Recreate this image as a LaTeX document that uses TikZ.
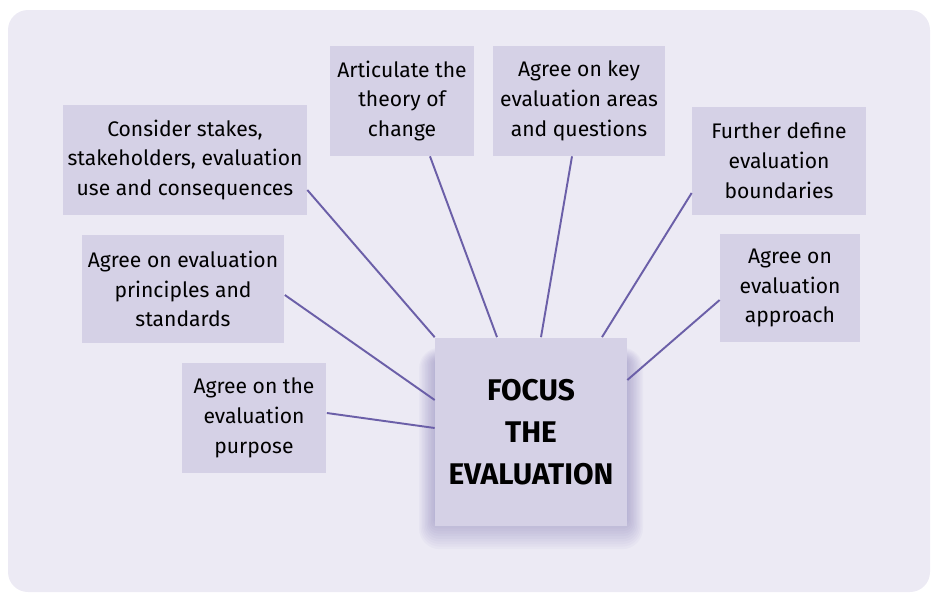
\documentclass[tikz,border=0pt]{standalone}
\usepackage{fontspec}
\setmainfont{Fira Sans}
\usepackage{tikz}

\definecolor{pagebg}{HTML}{ECEAF4}
\definecolor{notefill}{HTML}{D5D1E6}
\definecolor{linkcol}{HTML}{6B5FA8}

\tikzset{
  note/.style={fill=notefill, inner sep=0pt, align=center,
    minimum height=2.2cm, font=\fontsize{12}{17}\selectfont},
  link/.style={draw=linkcol, line width=1.1pt},
}

\begin{document}
\begin{tikzpicture}[x=0.02cm, y=-0.02cm]
    \useasboundingbox (0,0) rectangle (933,595);
    \fill[pagebg, rounded corners=0.4cm] (8,10) rectangle (930,592);

    \node[note, minimum width=4.88cm] (consider) at (185,160) {Consider stakes,\\ stakeholders, evaluation\\ use and consequences};
    \node[note, minimum width=4.06cm, minimum height=2.16cm] (principles) at (183,289) {Agree on evaluation\\ principles and\\ standards};
    \node[note, minimum width=2.9cm] (purpose) at (254,418) {Agree on the\\ evaluation\\ purpose};
    \node[note, minimum width=2.88cm] (theory) at (402,101) {Articulate the\\ theory of\\ change};
    \node[note, minimum width=3.44cm] (questions) at (579,101) {Agree on key\\ evaluation areas\\ and questions};
    \node[note, minimum width=3.48cm, minimum height=2.18cm] (boundaries) at (779,161) {Further define\\ evaluation\\ boundaries};
    \node[note, minimum width=2.8cm, minimum height=2.18cm] (approach) at (790,288) {Agree on\\ evaluation\\ approach};

    % soft shadow under the centre note
    \foreach \k in {1,...,12}
      \fill[linkcol, opacity=0.04, rounded corners=\k pt]
        (437-1.5*\k, 362-1.2*\k) rectangle (625+1.5*\k, 518+2.6*\k);

    \node[note, minimum width=3.84cm, minimum height=3.78cm,
      font=\fontsize{17}{24}\selectfont\bfseries]
      (focus) at (531,432) {FOCUS\\ THE\\ EVALUATION};

    \draw[link] ([yshift=-0.6cm]consider.east) -- (focus.north west);
    \draw[link] ([yshift=-0.12cm]principles.east) -- ([yshift=0.64cm]focus.west);
    \draw[link] ([yshift=0.1cm]purpose.east) -- ([yshift=0.08cm]focus.west);
    \draw[link] ([xshift=0.56cm]theory.south) -- ([xshift=-0.68cm]focus.north);
    \draw[link] ([xshift=-0.14cm]questions.south) -- ([xshift=0.2cm]focus.north);
    \draw[link] ([yshift=-0.64cm]boundaries.west) -- ([xshift=1.42cm]focus.north);
    \draw[link] ([yshift=-0.24cm]approach.west) -- ([yshift=1.04cm]focus.east);
\end{tikzpicture}
\end{document}
